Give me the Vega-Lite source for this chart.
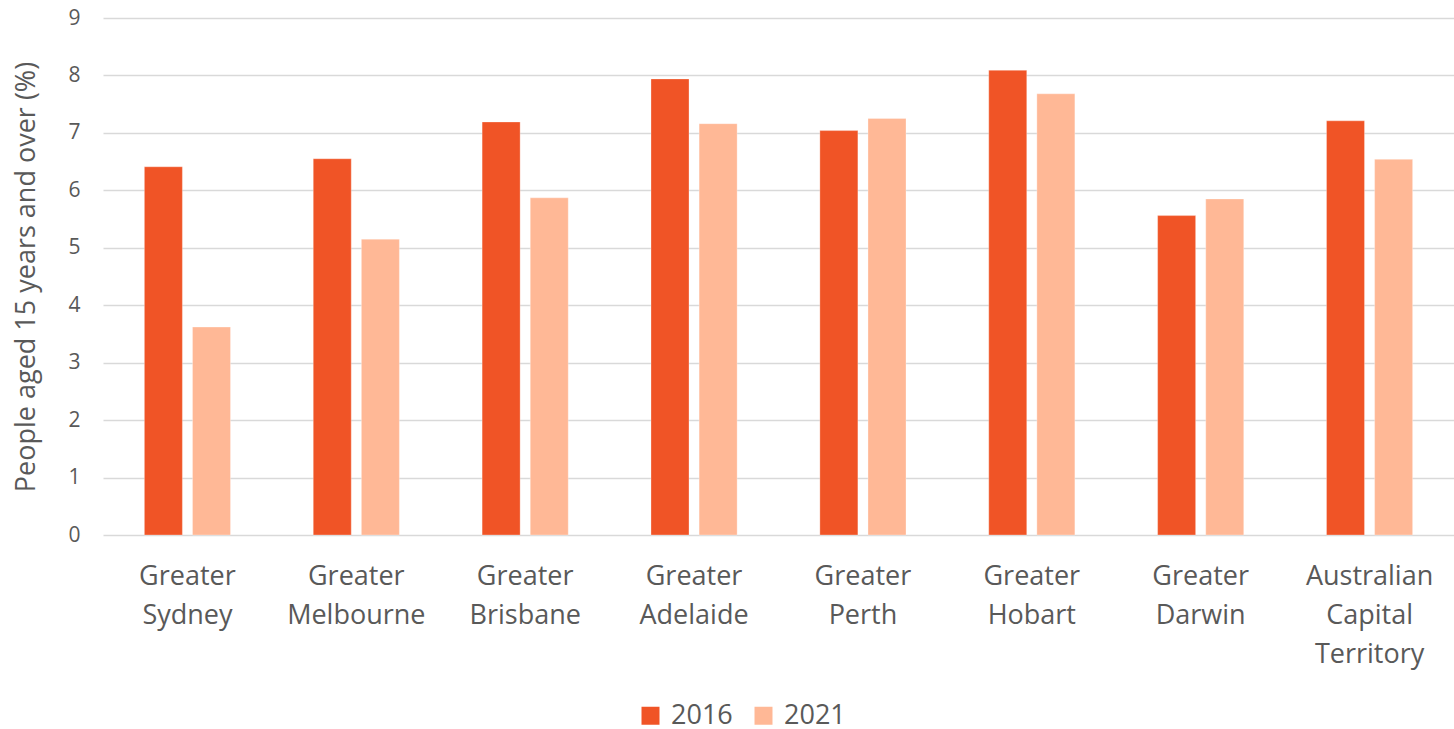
{
  "$schema": "https://vega.github.io/schema/vega-lite/v6.json",
  "width": 1351,
  "height": 517,
  "autosize": "none",
  "padding": {"left": 103, "top": 18, "right": 0, "bottom": 194},
  "background": "white",
  "config": {
    "font": "Open Sans",
    "view": {"stroke": null}
  },
  "data": {
    "values": [
      {"region": "Greater Sydney", "year": "2016", "value": 6.41},
      {"region": "Greater Sydney", "year": "2021", "value": 3.62},
      {"region": "Greater Melbourne", "year": "2016", "value": 6.55},
      {"region": "Greater Melbourne", "year": "2021", "value": 5.15},
      {"region": "Greater Brisbane", "year": "2016", "value": 7.19},
      {"region": "Greater Brisbane", "year": "2021", "value": 5.87},
      {"region": "Greater Adelaide", "year": "2016", "value": 7.94},
      {"region": "Greater Adelaide", "year": "2021", "value": 7.16},
      {"region": "Greater Perth", "year": "2016", "value": 7.04},
      {"region": "Greater Perth", "year": "2021", "value": 7.25},
      {"region": "Greater Hobart", "year": "2016", "value": 8.09},
      {"region": "Greater Hobart", "year": "2021", "value": 7.68},
      {"region": "Greater Darwin", "year": "2016", "value": 5.56},
      {"region": "Greater Darwin", "year": "2021", "value": 5.85},
      {"region": "Australian Capital Territory", "year": "2016", "value": 7.21},
      {"region": "Australian Capital Territory", "year": "2021", "value": 6.54}
    ]
  },
  "mark": {"type": "bar", "stroke": "#ffffff", "strokeOpacity": 0.5, "strokeWidth": 0.6},
  "encoding": {
    "x": {
      "field": "region",
      "type": "nominal",
      "sort": null,
      "scale": {"paddingInner": 0.49, "paddingOuter": 0.245},
      "axis": {
        "title": null,
        "labelAngle": 0,
        "labelExpr": "split(datum.label, ' ')",
        "labelFontSize": 27,
        "labelColor": "#595959",
        "labelLineHeight": 39,
        "labelPadding": 28,
        "ticks": false,
        "domain": false,
        "labelBaseline": "top"
      }
    },
    "xOffset": {
      "field": "year",
      "type": "nominal",
      "scale": {"paddingInner": 0.21, "paddingOuter": 0}
    },
    "y": {
      "field": "value",
      "type": "quantitative",
      "scale": {"domain": [0, 9], "nice": false},
      "axis": {
        "title": "People aged 15 years and over (%)",
        "titleFontSize": 27,
        "titleFontWeight": "normal",
        "titleColor": "#595959",
        "titlePadding": 27,
        "values": [0, 1, 2, 3, 4, 5, 6, 7, 8, 9],
        "labelOverlap": false,
        "labelFontSize": 21,
        "labelColor": "#595959",
        "labelPadding": 23,
        "ticks": false,
        "domain": false,
        "grid": true,
        "gridColor": "#d9d9d9",
        "gridWidth": 1.5
      }
    },
    "color": {
      "field": "year",
      "type": "nominal",
      "scale": {"domain": ["2016", "2021"], "range": ["#F05426", "#FFB896"]},
      "legend": {
        "title": null,
        "orient": "none",
        "direction": "horizontal",
        "legendX": 534,
        "legendY": 684,
        "symbolType": "square",
        "symbolSize": 324,
        "symbolStrokeWidth": 0,
        "symbolOpacity": 1,
        "labelFontSize": 27,
        "labelColor": "#595959",
        "labelOffset": 7,
        "columnPadding": 17
      }
    }
  }
}
